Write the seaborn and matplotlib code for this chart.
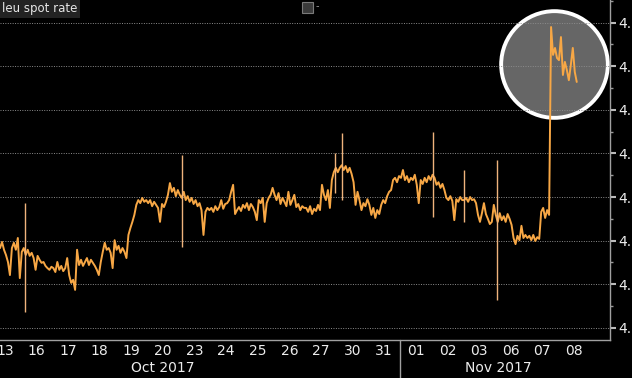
import matplotlib
matplotlib.use('Agg')
import matplotlib.pyplot as plt
import seaborn as sns
import pandas as pd
from matplotlib.patches import Rectangle
from matplotlib.ticker import FixedLocator, MultipleLocator, FormatStrFormatter
from matplotlib.transforms import blended_transform_factory

# ---------------- data ----------------
day_labels = ['13', '16', '17', '18', '19', '20', '23', '24', '25', '26', '27', '30', '31',
              '01', '02', '03', '06', '07', '08']
month_labels = ['Oct 2017', 'Nov 2017']
month_label_pos = [5.0, 15.6]      # day-index position of month captions
month_break = 12.5                 # between 31 Oct and 01 Nov
samples_per_day = 16

oct13 = [4.5983, 4.5990, 4.5979, 4.5988, 4.5983, 4.5983, 4.5997, 4.5979, 4.5967, 4.5951, 4.5921, 4.5983, 4.5995, 4.5979, 4.6006, 4.5914]
oct16 = [4.5974, 4.5983, 4.5967, 4.5979, 4.5965, 4.5972, 4.5960, 4.5933, 4.5965, 4.5956, 4.5949, 4.5951, 4.5942, 4.5937, 4.5933, 4.5940]
oct17 = [4.5937, 4.5928, 4.5951, 4.5933, 4.5942, 4.5930, 4.5937, 4.5960, 4.5921, 4.5903, 4.5910, 4.5887, 4.5979, 4.5944, 4.5956, 4.5942]
oct18 = [4.5951, 4.5960, 4.5944, 4.5956, 4.5949, 4.5942, 4.5933, 4.5921, 4.5951, 4.5974, 4.5995, 4.5979, 4.5983, 4.5972, 4.5937, 4.6001]
oct19 = [4.5979, 4.5988, 4.5972, 4.5983, 4.5974, 4.5960, 4.6013, 4.6029, 4.6043, 4.6059, 4.6082, 4.6093, 4.6086, 4.6098, 4.6089, 4.6093]
oct20 = [4.6086, 4.6093, 4.6079, 4.6089, 4.6082, 4.6075, 4.6043, 4.6084, 4.6077, 4.6089, 4.6105, 4.6132, 4.6112, 4.6121, 4.6102, 4.6116]
oct23 = [4.6105, 4.6098, 4.6112, 4.6093, 4.6102, 4.6089, 4.6098, 4.6084, 4.6093, 4.6079, 4.6086, 4.6070, 4.6013, 4.6066, 4.6075, 4.6070]
oct24 = [4.6075, 4.6066, 4.6079, 4.6070, 4.6077, 4.6093, 4.6073, 4.6084, 4.6086, 4.6093, 4.6112, 4.6128, 4.6061, 4.6070, 4.6077, 4.6068]
oct25 = [4.6082, 4.6075, 4.6086, 4.6070, 4.6084, 4.6077, 4.6066, 4.6047, 4.6093, 4.6086, 4.6098, 4.6043, 4.6086, 4.6098, 4.6105, 4.6121]
oct26 = [4.6105, 4.6093, 4.6109, 4.6084, 4.6098, 4.6089, 4.6079, 4.6112, 4.6082, 4.6093, 4.6105, 4.6077, 4.6084, 4.6070, 4.6079, 4.6075]
oct27 = [4.6075, 4.6066, 4.6079, 4.6061, 4.6073, 4.6068, 4.6082, 4.6070, 4.6128, 4.6105, 4.6093, 4.6116, 4.6075, 4.6139, 4.6157, 4.6167]
oct30 = [4.6157, 4.6167, 4.6173, 4.6162, 4.6171, 4.6157, 4.6167, 4.6153, 4.6134, 4.6082, 4.6112, 4.6093, 4.6070, 4.6086, 4.6079, 4.6095]
oct31 = [4.6082, 4.6059, 4.6075, 4.6052, 4.6070, 4.6061, 4.6082, 4.6093, 4.6086, 4.6102, 4.6112, 4.6116, 4.6139, 4.6144, 4.6134, 4.6148]
nov01 = [4.6144, 4.6162, 4.6139, 4.6148, 4.6134, 4.6144, 4.6139, 4.6151, 4.6128, 4.6086, 4.6139, 4.6130, 4.6144, 4.6134, 4.6148, 4.6139]
nov02 = [4.6151, 4.6144, 4.6128, 4.6134, 4.6121, 4.6130, 4.6116, 4.6098, 4.6093, 4.6102, 4.6091, 4.6047, 4.6095, 4.6089, 4.6100, 4.6093]
nov03 = [4.6093, 4.6098, 4.6089, 4.6100, 4.6093, 4.6095, 4.6086, 4.6059, 4.6043, 4.6063, 4.6086, 4.6061, 4.6050, 4.6038, 4.6043, 4.6082]
nov06 = [4.6059, 4.6043, 4.6063, 4.6047, 4.6056, 4.6043, 4.6061, 4.6050, 4.6036, 4.6006, 4.5992, 4.6011, 4.6001, 4.6034, 4.6006, 4.6013]
nov07 = [4.6006, 4.6011, 4.6001, 4.6013, 4.5999, 4.6008, 4.6004, 4.6066, 4.6075, 4.6052, 4.6070, 4.6059, 4.6490, 4.6426, 4.6442, 4.6419]
nov08 = [4.6414, 4.6467, 4.6380, 4.6410, 4.6391, 4.6368, 4.6403, 4.6442, 4.6387, 4.6364]

daily_rates = [oct13, oct16, oct17, oct18, oct19, oct20, oct23, oct24, oct25, oct26, oct27,
               oct30, oct31, nov01, nov02, nov03, nov06, nov07, nov08]

# isolated tick spikes: day index, fraction of the day, high, low
spike_day = [1, 6, 10, 11, 14, 15, 16]
spike_frac = [0.13, 0.10, 0.94, 0.15, 0.045, 0.01, 0.07]
spike_high = [4.6086, 4.6196, 4.6201, 4.6247, 4.6249, 4.6162, 4.6185]
spike_low = [4.5836, 4.5986, 4.6109, 4.6093, 4.6054, 4.6043, 4.5864]

y_grid = [4.58, 4.59, 4.60, 4.61, 4.62, 4.63, 4.64, 4.65]

# highlighted region (Nov 7-8 jump)
highlight_x = 17.36
highlight_y = 4.6406

# ---------------- build table ----------------
rows = []
for i, vals in enumerate(daily_rates):
    for k, v in enumerate(vals):
        rows.append({'t': i - 0.5 + (k + 0.5) / samples_per_day, 'rate': v})
df = pd.DataFrame(rows)

# ---------------- style ----------------
sns.set_theme(style='dark')
plt.rcParams['font.family'] = ['DejaVu Sans']
plt.rcParams['axes.facecolor'] = 'black'
plt.rcParams['figure.facecolor'] = 'black'

fig = plt.figure(figsize=(6.32, 3.78), dpi=100)
ax = fig.add_axes([0.0, 38 / 378, 610 / 632, 340 / 378])
ax.set_facecolor('black')

line_color = '#f7a745'

# highlight circle (behind data)
ax.scatter([highlight_x], [highlight_y], s=5900, facecolor='#666666', edgecolor='white',
           linewidth=2.8, zorder=0.3)

sns.lineplot(data=df, x='t', y='rate', ax=ax, color=line_color, linewidth=1.4,
             estimator=None, sort=False, zorder=3)

sx = [d - 0.5 + f for d, f in zip(spike_day, spike_frac)]
ax.vlines(sx, spike_low, spike_high, color='#efb37c', linewidth=1.0, zorder=3)

ax.set_xlim(-0.158, 19.146)
ax.set_ylim(4.5772, 4.6552)

# grid
ax.yaxis.set_major_locator(FixedLocator(y_grid))
ax.yaxis.set_minor_locator(MultipleLocator(0.005))
ax.grid(True, axis='y', which='major', color='#8c8c8c', linestyle=(0, (1, 1.5)), linewidth=0.7)
ax.grid(False, axis='x')
ax.set_axisbelow(True)

# y axis on right
ax.yaxis.tick_right()
ax.yaxis.set_major_formatter(FormatStrFormatter('%.4f'))
ax.tick_params(axis='y', which='major', direction='out', length=4, width=1.5, color='#bbbbbb',
               labelcolor='#ececec', labelsize=10, pad=2, right=True, left=False)
ax.tick_params(axis='y', which='minor', direction='out', length=2.5, width=1, color='#999999',
               right=True, left=False)

# x axis
ax.set_xticks(range(len(day_labels)))
ax.set_xticklabels(day_labels)
ax.tick_params(axis='x', length=0, labelcolor='#ececec', labelsize=10, pad=3)
ax.set_xlabel('')
ax.set_ylabel('')

for s in ['top', 'left']:
    ax.spines[s].set_visible(False)
for s in ['right', 'bottom']:
    ax.spines[s].set_visible(True)
    ax.spines[s].set_color('#a0a0a0')
    ax.spines[s].set_linewidth(1.0)

trans = blended_transform_factory(ax.transData, ax.transAxes)
for lab, pos in zip(month_labels, month_label_pos):
    ax.text(pos, -0.063, lab, transform=trans, ha='center', va='top', color='#ececec', fontsize=10)
ax.plot([month_break, month_break], [0, -0.14], transform=trans, color='#a0a0a0', linewidth=1.0,
        clip_on=False)

# title box
ax.text(0.003, 0.975, 'leu spot rate', transform=ax.transAxes, ha='left', va='center',
        color='#e6e6e6', fontsize=8.5,
        bbox=dict(boxstyle='square,pad=0.25', fc='#232323', ec='none'), zorder=5)

# small toolbar icon at top
fig.add_artist(Rectangle((302 / 632, 1 - 13 / 378), 11 / 632, 11 / 378, transform=fig.transFigure,
                         fc='#3a3a3a', ec='#7a7a7a', linewidth=0.8))
fig.text(317 / 632, 1 - 6 / 378, '-', color='#9a9a9a', fontsize=7, ha='center', va='center')

fig.savefig('out.png', dpi=100, facecolor='black')
